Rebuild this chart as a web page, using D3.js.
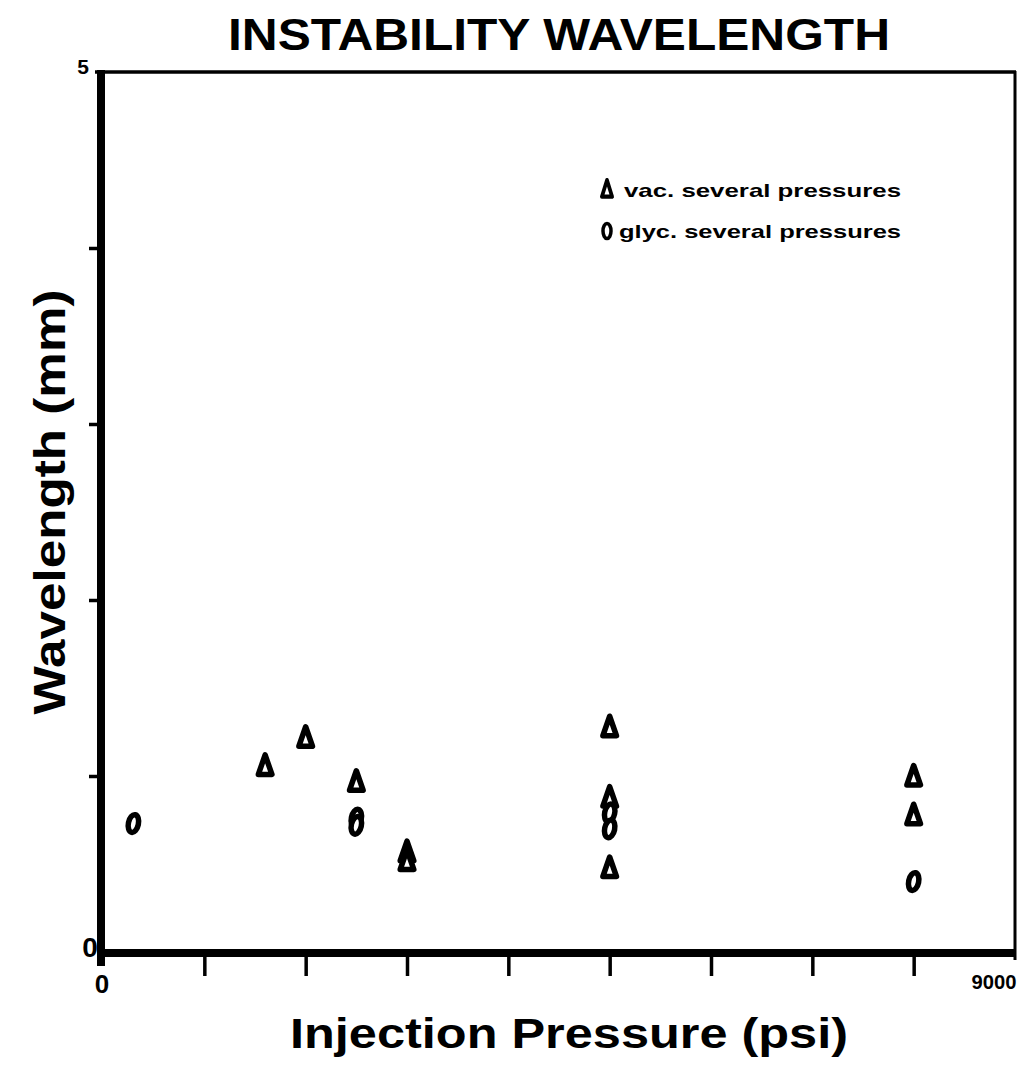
<!DOCTYPE html>
<html>
<head>
<meta charset="utf-8">
<script src="https://cdn.jsdelivr.net/npm/d3@7"></script>
<style>
  html, body { margin: 0; padding: 0; background: #fff; }
  svg { display: block; }
  text { font-family: "Liberation Sans", Arial, sans-serif; font-weight: bold; fill: #000; }
</style>
</head>
<body>
<script>
// ---- data ----
const vacPressure = [1600, 2000, 2500, 3000, 3000, 5000, 5000, 5000, 8000, 8000];
const vacWavelength = [1.06, 1.22, 0.97, 0.57, 0.52, 1.28, 0.88, 0.48, 1.00, 0.78];
const glycPressure = [300, 2500, 2500, 5000, 5000, 8000];
const glycWavelength = [0.73, 0.76, 0.72, 0.79, 0.70, 0.40];
const xTicks = [1000, 2000, 3000, 4000, 5000, 6000, 7000, 8000];
const yTicks = [1, 2, 3, 4];
const legendLabels = ["vac. several pressures", "glyc. several pressures"];
const titleText = "INSTABILITY WAVELENGTH";
const xLabel = "Injection Pressure (psi)";
const yLabel = "Wavelength (mm)";

// ---- layout ----
const W = 1025, H = 1066;
const svg = d3.select("body").append("svg").attr("width", W).attr("height", H);

const x = d3.scaleLinear().domain([0, 9000]).range([103, 1015]);
const y = d3.scaleLinear().domain([0, 5]).range([952, 72]);

// frame: top and right (thin)
svg.append("line").attr("x1", x(0) - 8).attr("x2", x(9000) + 1)
  .attr("y1", y(5)).attr("y2", y(5)).attr("stroke", "#000").attr("stroke-width", 3.5);
svg.append("line").attr("x1", x(9000)).attr("x2", x(9000))
  .attr("y1", y(5) - 1).attr("y2", y(0) + 8).attr("stroke", "#000").attr("stroke-width", 3);

// x axis
const xAxis = d3.axisBottom(x).tickValues(xTicks).tickSize(24).tickFormat("");
const gx = svg.append("g").attr("transform", `translate(0,${y(0)})`).call(xAxis);
gx.select(".domain").remove();
gx.selectAll(".tick line").attr("stroke", "#000").attr("stroke-width", 3.5);
svg.append("line").attr("x1", x(0) - 4).attr("x2", x(9000) + 1)
  .attr("y1", y(0) + 1).attr("y2", y(0) + 1).attr("stroke", "#000").attr("stroke-width", 8);

// y axis
const yAxis = d3.axisLeft(y).tickValues(yTicks).tickSize(14).tickFormat("");
const gy = svg.append("g").attr("transform", `translate(${x(0)},0)`).call(yAxis);
gy.select(".domain").remove();
gy.selectAll(".tick line").attr("stroke", "#000").attr("stroke-width", 3.5);
svg.append("line").attr("x1", x(0) - 2).attr("x2", x(0) - 2)
  .attr("y1", y(5) - 2).attr("y2", y(0) + 14).attr("stroke", "#000").attr("stroke-width", 8);

// tick labels
svg.append("text").attr("x", x(0) - 20).attr("y", y(5) + 2).attr("text-anchor", "middle")
  .attr("font-size", 21).text("5");
svg.append("text").attr("x", x(0) - 13).attr("y", y(0) + 5).attr("text-anchor", "middle")
  .attr("font-size", 28).text("0");
svg.append("text").attr("x", x(0) - 1).attr("y", y(0) + 41).attr("text-anchor", "middle")
  .attr("font-size", 26).text("0");
svg.append("text").attr("x", x(9000) - 21).attr("y", y(0) + 37).attr("text-anchor", "middle")
  .attr("font-size", 21).attr("textLength", 45).attr("lengthAdjust", "spacingAndGlyphs").text("9000");

// title & labels
svg.append("text").attr("x", 559).attr("y", 50).attr("text-anchor", "middle")
  .attr("font-size", 45).attr("textLength", 662).attr("lengthAdjust", "spacingAndGlyphs")
  .text(titleText);
svg.append("text").attr("x", 569).attr("y", 1048).attr("text-anchor", "middle")
  .attr("font-size", 42).attr("textLength", 558).attr("lengthAdjust", "spacingAndGlyphs")
  .text(xLabel);
svg.append("text").attr("transform", "translate(65,502) rotate(-90)").attr("text-anchor", "middle")
  .attr("font-size", 44).attr("textLength", 425).attr("lengthAdjust", "spacingAndGlyphs")
  .text(yLabel);

// markers
const triPath = "M0,-10.5 L6.8,9 L-6.8,9 Z";
const plot = svg.append("g");
plot.selectAll("path.vac").data(vacPressure.map((p, i) => [p, vacWavelength[i]]))
  .join("path").attr("class", "vac")
  .attr("transform", d => `translate(${x(d[0])},${y(d[1])})`)
  .attr("d", triPath).attr("fill", "#fff").attr("stroke", "#000")
  .attr("stroke-width", 5.5).attr("stroke-linejoin", "round");
plot.selectAll("ellipse.glyc").data(glycPressure.map((p, i) => [p, glycWavelength[i]]))
  .join("ellipse").attr("class", "glyc")
  .attr("transform", d => `translate(${x(d[0])},${y(d[1])}) rotate(12)`)
  .attr("rx", 5).attr("ry", 9).attr("fill", "#fff").attr("stroke", "#000")
  .attr("stroke-width", 5.5);

// legend
const lg = svg.append("g");
lg.append("path").attr("transform", "translate(607,189) scale(0.75,0.85)")
  .attr("d", triPath).attr("fill", "#fff").attr("stroke", "#000")
  .attr("stroke-width", 5).attr("stroke-linejoin", "round");
lg.append("ellipse").attr("cx", 607).attr("cy", 231).attr("rx", 4).attr("ry", 7.5)
  .attr("fill", "#fff").attr("stroke", "#000").attr("stroke-width", 3.5);
legendLabels.forEach((t, i) => {
  lg.append("text").attr("x", i === 0 ? 624 : 619).attr("y", 197 + i * 41)
    .attr("font-size", 19).attr("textLength", i === 0 ? 277 : 282)
    .attr("lengthAdjust", "spacingAndGlyphs").text(t);
});
</script>
</body>
</html>
